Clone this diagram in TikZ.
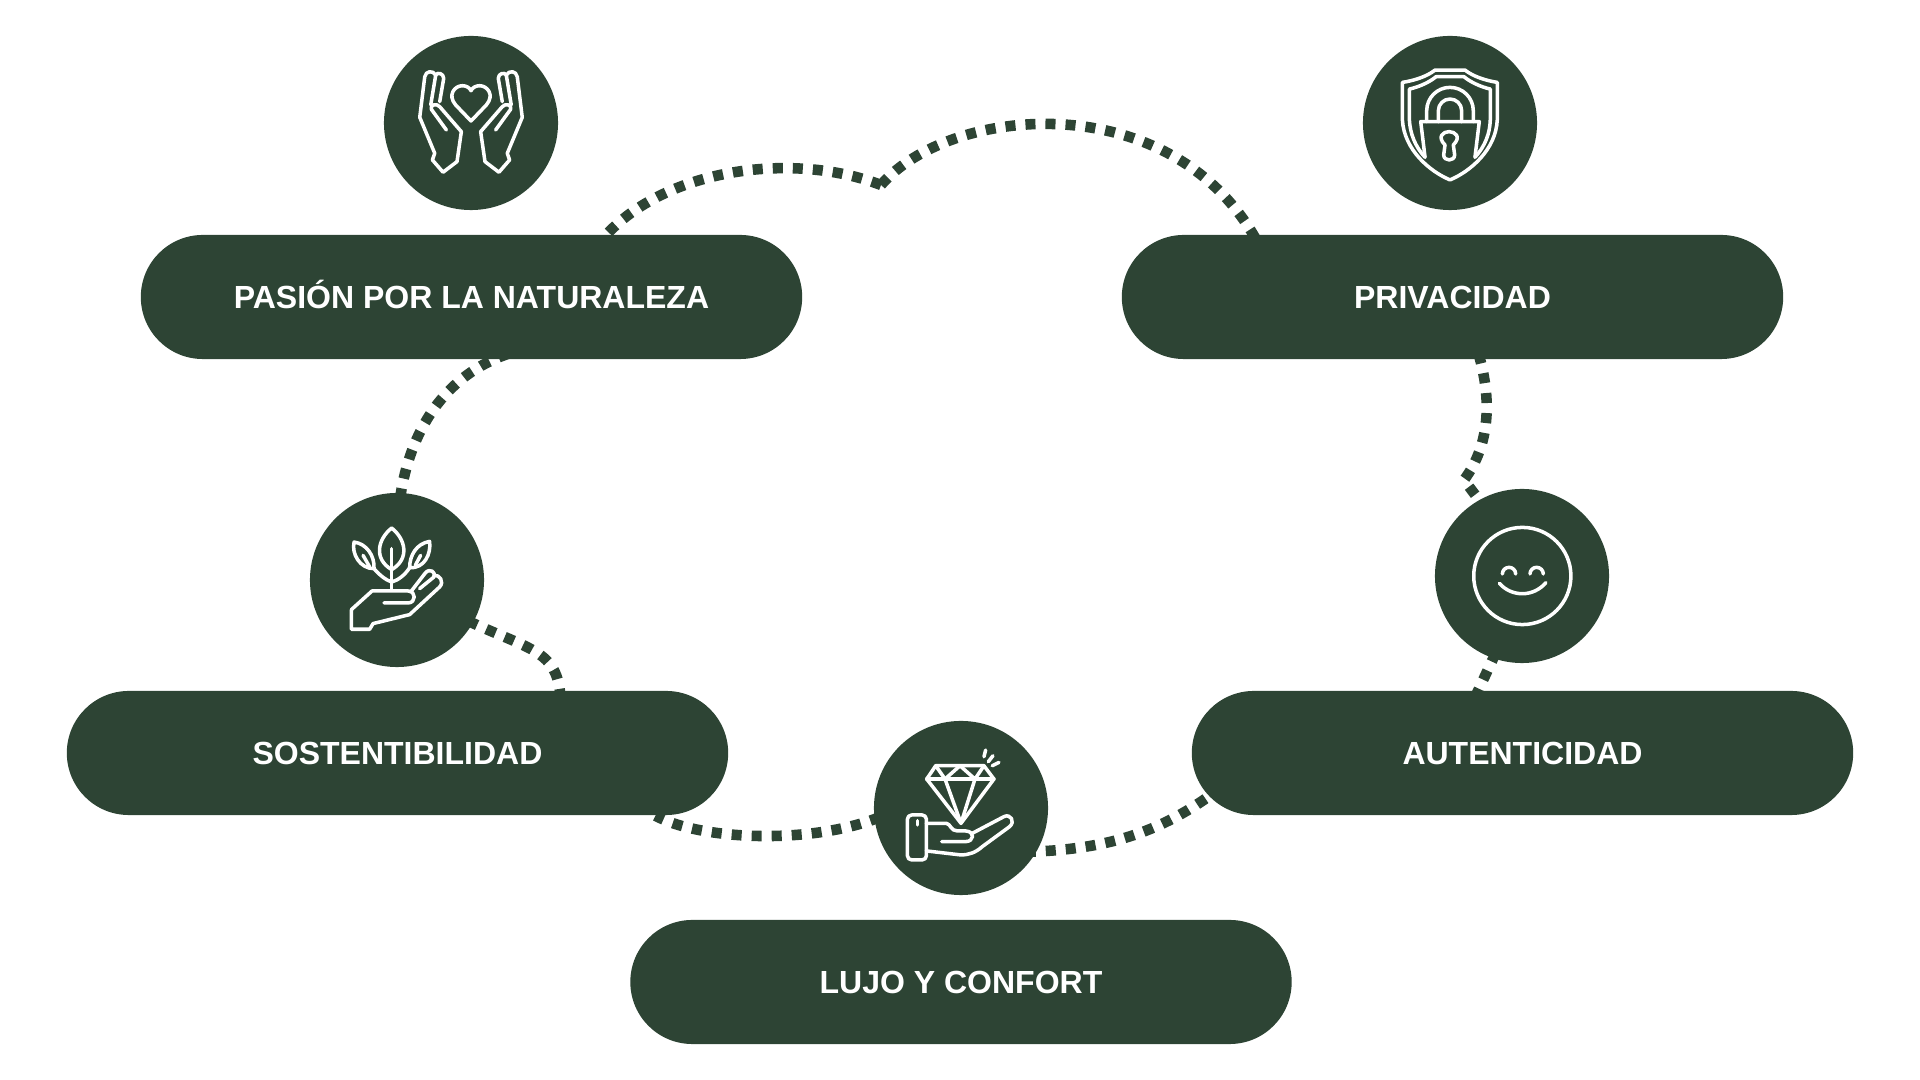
\documentclass[tikz,border=0pt]{standalone}
\usepackage{fontspec}
\setmainfont{Liberation Sans}
\usepackage{tikz}
\usetikzlibrary{shapes.misc, arrows.meta, positioning, calc}
\definecolor{verdeOscuro}{HTML}{2D4434}
\tikzset{
	pastilla/.style={rounded rectangle, minimum width=6.61cm, minimum height=1.24cm, inner sep=0pt, align=center, fill=verdeOscuro, text=white, text height=6.5pt, text depth=0pt, font=\fontsize{9.1pt}{11pt}\selectfont\bfseries},
	circulo/.style={circle, minimum size=1.74cm, inner sep=0pt, fill=verdeOscuro},
	punteado/.style={draw=verdeOscuro, line width=3pt, dash pattern=on 2.85pt off 2.85pt},
	icono/.style={x=0.0033333cm, y=-0.0033333cm, draw=white, white, line width=1pt, line cap=round, line join=round}
}
\begin{document}
\begin{tikzpicture}[x=0.01cm, y=-0.01cm]
		\useasboundingbox (0,0) rectangle (1920,1080);
		
		% Pastillas
		\node [pastilla] (pasion) at (471.5,297) {PASIÓN POR LA NATURALEZA};
		\node [pastilla] (privacidad) at (1452.5,297) {PRIVACIDAD};
		\node [pastilla] (sostenible) at (397.5,753) {SOSTENTIBILIDAD};
		\node [pastilla] (autentico) at (1522.5,753) {AUTENTICIDAD};
		\node [pastilla] (lujo) at (961,982) {LUJO Y CONFORT};
		
		% Circulos
		\node [circulo] (icManos) at (471,123) {};
		\node [circulo] (icEscudo) at (1450,123) {};
		\node [circulo] (icPlanta) at (397,580) {};
		\node [circulo] (icCara) at (1522,576) {};
		\node [circulo] (icDiamante) at (961,808) {};
		
		% Conectores
		\coordinate (picoA) at (881,185);
		\coordinate (picoB) at (1464,480);
		\draw [punteado] (picoA) .. controls (790,150) and (660,170) .. ($(pasion.north)+(130,6)$);
		\draw [punteado] (picoA) .. controls (950,105) and (1170,85) .. ($(privacidad.north)+(-196,6)$);
		\draw [punteado] ($(privacidad.south)+(26,-6)$) .. controls (1492,400) and (1490,445) .. (picoB) -- ($(icCara.120)+(4,4)$);
		\draw [punteado] ($(icCara.250)+(4,-6)$) -- ($(autentico.north)+(-47,6)$);
		\draw [punteado] ($(autentico.south)+(-317,-17)$) .. controls (1160,830) and (1110,850) .. ($(icDiamante.-30)+(-12,0)$);
		\draw [punteado] ($(icDiamante.186)+(6,0)$) .. controls (810,845) and (700,840) .. ($(sostenible.south)+(258,0)$);
		\draw [punteado] ($(icPlanta.-30)+(-5,-3)$) .. controls (530,650) and (558,650) .. ($(sostenible.north)+(163,8)$);
		\draw [punteado] ($(icPlanta.88)+(0,6)$) .. controls (410,430) and (445,375) .. ($(pasion.south)+(37,-6)$);
		
		% Icono manos
		\begin{scope}[icono, shift={(icManos.center)}, shift={(-304,-309)}]
			\foreach \lado in {1,-1} {
				\begin{scope}[shift={(304,0)}, xscale=\lado, shift={(-304,0)}]
					\draw (210,245) -- (222,175) .. controls (222,160) and (203,155) .. (198,165) .. controls (190,150) and (168,152) .. (165,170) -- (150,292) -- (195,400) -- (188,420) -- (220,457) -- (262,425) -- (275,335) -- (210,260) .. controls (200,248) and (180,255) .. (185,268) -- (230,330);
					\draw (198,165) -- (183,255);
				\end{scope}
			}
			\draw (304,303) -- (258,255) .. controls (232,225) and (255,197) .. (278,197) .. controls (290,197) and (300,203) .. (304,212) .. controls (308,203) and (318,197) .. (330,197) .. controls (353,197) and (376,225) .. (350,255) -- cycle;
		\end{scope}
		
		% Icono escudo
		\begin{scope}[icono, shift={(icEscudo.center)}, shift={(-300,-309)}]
			\draw (255,150) -- (345,150) .. controls (370,170) and (410,182) .. (442,187) -- (442,300) .. controls (438,390) and (360,455) .. (300,480) .. controls (240,455) and (162,390) .. (157,300) -- (157,187) .. controls (190,182) and (230,170) .. (255,150) -- cycle;
			\draw (225,412) .. controls (195,380) and (180,340) .. (178,300) -- (178,207) .. controls (210,200) and (240,185) .. (258,170) -- (342,170) .. controls (360,185) and (390,200) .. (421,207) -- (421,300) .. controls (420,340) and (405,380) .. (375,412);
			\draw (225,412) -- (212,305) -- (388,305) -- (375,412);
			\draw (230,305) -- (230,272) arc [start angle=180, end angle=0, x radius=70, y radius=-70] -- (370,305);
			\draw (265,305) -- (265,272) arc [start angle=180, end angle=0, x radius=35, y radius=-35] -- (335,305);
			\draw (285,375) .. controls (260,350) and (280,335) .. (297,335) .. controls (315,335) and (335,350) .. (310,375) -- (314,405) .. controls (314,425) and (281,425) .. (281,405) -- cycle;
		\end{scope}
		
		% Icono planta
		\begin{scope}[icono, shift={(icPlanta.center)}, shift={(-307,-299)}]
			\draw (170,388) -- (232,332) -- (340,332) .. controls (365,332) and (365,368) .. (340,368) -- (268,368);
			\draw (348,335) -- (392,278) .. controls (405,262) and (425,275) .. (418,290) -- (375,325);
			\draw (418,285) .. controls (435,282) and (450,305) .. (435,320) -- (345,403) -- (235,430) -- (225,447) -- (170,447) -- (170,388);
			\draw (291,205) -- (291,325);
			\draw (291,143) .. controls (250,175) and (235,235) .. (291,268) .. controls (347,235) and (332,175) .. (291,143) -- cycle;
			\draw (178,185) .. controls (170,220) and (195,265) .. (238,265) .. controls (240,225) and (215,190) .. (178,185) -- cycle;
			\draw (405,183) .. controls (410,220) and (390,265) .. (345,262) .. controls (345,225) and (365,190) .. (405,183) -- cycle;
			\draw (205,225) -- (225,260);
			\draw (378,225) -- (362,255);
			\draw (238,265) .. controls (255,285) and (275,300) .. (291,305) .. controls (310,300) and (330,285) .. (345,262);
		\end{scope}
		
		% Icono diamante
		\begin{scope}[icono, shift={(icDiamante.center)}, shift={(-316,-309)}]
			\draw (240,182) -- (385,182) -- (415,222) -- (316,355) -- (213,222) -- cycle;
			\draw (213,222) -- (415,222);
			\draw (240,182) -- (268,222) -- (313,182) -- (358,222) -- (385,182);
			\draw (268,222) -- (316,355) -- (358,222);
			\draw (390,135) -- (385,155);
			\draw (412,152) -- (398,170);
			\draw (430,172) -- (410,182);
			\draw [rounded corners=1.2pt] (155,330) rectangle (212,465);
			\draw (185,347) -- (185,360);
			\draw (212,355) -- (272,355) .. controls (285,357) and (285,378) .. (305,378) -- (330,378) .. controls (360,380) and (355,410) .. (330,410) -- (258,410);
			\draw (350,385) -- (445,335) .. controls (465,325) and (480,350) .. (462,365) -- (380,425) .. controls (360,443) and (340,450) .. (315,450) -- (212,438);
		\end{scope}
		
		% Icono cara
		\begin{scope}[icono, shift={(icCara.center)}, shift={(-306,-288)}]
			\draw (307,288) circle [x radius=146, y radius=-146];
			\draw (247,282) arc [start angle=180, end angle=0, x radius=20, y radius=-20];
			\draw (330,282) arc [start angle=180, end angle=0, x radius=20, y radius=-20];
			\draw (238,310) .. controls (275,352) and (340,352) .. (378,308);
		\end{scope}
	\end{tikzpicture}
\end{document}
